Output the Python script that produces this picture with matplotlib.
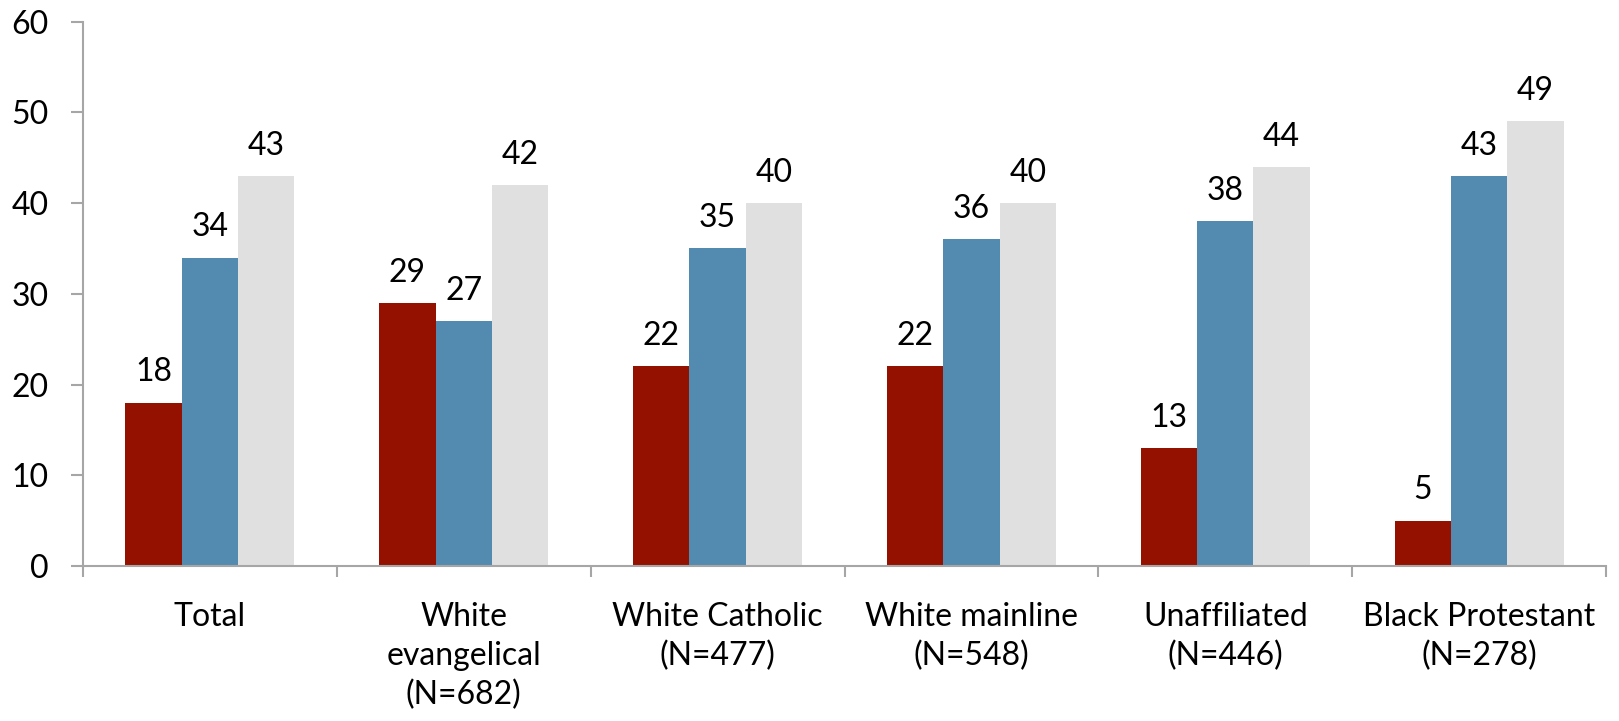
import numpy as np
import matplotlib.pyplot as plt

# ---------- Data ----------
categories = ["Total", "White\nevangelical\n(N=682)", "White Catholic\n(N=477)",
              "White mainline\n(N=548)", "Unaffiliated\n(N=446)", "Black Protestant\n(N=278)"]
series_red = [18, 29, 22, 22, 13, 5]
series_blue = [34, 27, 35, 36, 38, 43]
series_gray = [43, 42, 40, 40, 44, 49]
y_ticks = [0, 10, 20, 30, 40, 50, 60]

# ---------- Style ----------
plt.rcParams['font.family'] = ['Lato', 'DejaVu Sans']
colors = ["#941100", "#538BB0", "#E0E0E0"]
axis_gray = "#A6A6A6"
fs = 23

fig = plt.figure(figsize=(16.19, 7.21), dpi=100)
ax = fig.add_axes([0.0513, 0.215, 0.9407, 0.755])

x = np.arange(len(categories)) + 0.5
w = 0.222

for i, (vals, col) in enumerate(zip([series_red, series_blue, series_gray], colors)):
    xs = x + (i - 1) * w
    ax.bar(xs, vals, width=w, color=col, linewidth=0)
    for xi, v in zip(xs, vals):
        ax.annotate(str(v), (xi, v), xytext=(0, 11), textcoords="offset points",
                    ha="center", va="bottom", fontsize=fs, color="black")

ax.set_xlim(0, len(categories))
ax.set_ylim(0, 60)
ax.set_yticks(y_ticks)
ax.set_xticks(x)
ax.set_xticklabels(categories, fontsize=fs, linespacing=1.37, va="top")
ax.set_xticks(np.arange(len(categories) + 1), minor=True)

ax.tick_params(axis="x", which="major", length=0, pad=26)
ax.tick_params(axis="x", which="minor", length=11 / 1.389, width=1.5, color=axis_gray)
ax.tick_params(axis="y", length=12 / 1.389, width=1.5, color=axis_gray, labelsize=fs, pad=16)

for side in ["top", "right"]:
    ax.spines[side].set_visible(False)
for side in ["left", "bottom"]:
    ax.spines[side].set_color(axis_gray)
    ax.spines[side].set_linewidth(1.5)

fig.savefig("out.png", dpi=100)
